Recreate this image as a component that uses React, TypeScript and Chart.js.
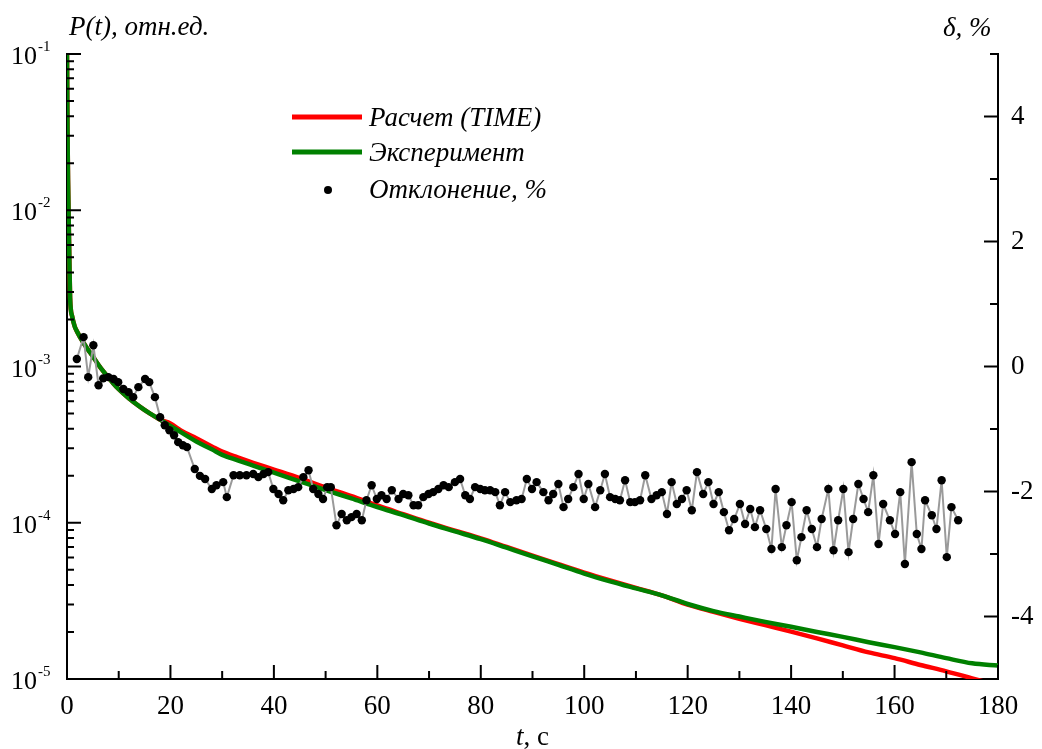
import React, { useEffect, useRef } from 'react';
import { Chart, registerables } from 'chart.js';

Chart.register(...registerables);

const FONT = "'Liberation Serif', 'Times New Roman', serif";

// Time grid (s) for the two P(t) curves
const curveTimes = [
  0, 0.1, 0.2, 0.3, 0.45, 0.6, 1, 1.5, 2, 3, 4, 5, 6, 7, 8, 9, 10,
  12, 14, 16, 18, 20, 22, 25, 28, 30, 33, 36, 40,
  45, 50, 55, 60, 65, 70, 75, 80, 85, 90, 95, 100, 105, 110, 115, 120,
  125, 130, 135, 140, 145, 150, 155, 160, 165, 170, 175, 180,
];

// Эксперимент, P(t), отн.ед.
const experimentValues = [
  1.0e-1, 3.16e-2, 1.58e-2, 1.0e-2, 5.0e-3, 2.75e-3, 2.09e-3, 1.8e-3, 1.66e-3, 1.45e-3, 1.29e-3, 1.16e-3, 1.035e-3, 9.33e-4, 8.51e-4, 7.76e-4, 7.16e-4,
  6.24e-4, 5.56e-4, 5.01e-4, 4.57e-4, 4.17e-4, 3.8e-4, 3.31e-4, 2.95e-4, 2.72e-4, 2.51e-4, 2.32e-4, 2.09e-4,
  1.84e-4, 1.62e-4, 1.43e-4, 1.26e-4, 1.12e-4, 9.89e-5, 8.81e-5, 7.85e-5, 6.92e-5, 6.1e-5, 5.37e-5, 4.73e-5, 4.22e-5, 3.8e-5, 3.43e-5, 3.02e-5,
  2.72e-5, 2.51e-5, 2.32e-5, 2.16e-5, 2.0e-5, 1.86e-5, 1.72e-5, 1.6e-5, 1.48e-5, 1.36e-5, 1.26e-5, 1.22e-5,
];

// Расчет (TIME), P(t), отн.ед.
const calculationValues = [
  1.0e-1, 3.16e-2, 1.58e-2, 1.0e-2, 5.0e-3, 2.75e-3, 2.09e-3, 1.8e-3, 1.66e-3, 1.45e-3, 1.29e-3, 1.16e-3, 1.035e-3, 9.33e-4, 8.51e-4, 7.76e-4, 7.16e-4,
  6.24e-4, 5.56e-4, 5.01e-4, 4.57e-4, 4.32e-4, 3.9e-4, 3.47e-4, 3.08e-4, 2.85e-4, 2.62e-4, 2.42e-4, 2.19e-4,
  1.93e-4, 1.68e-4, 1.48e-4, 1.29e-4, 1.135e-4, 1.0e-4, 8.91e-5, 7.94e-5, 7.0e-5, 6.17e-5, 5.43e-5, 4.79e-5, 4.27e-5, 3.83e-5, 3.43e-5, 2.99e-5,
  2.69e-5, 2.43e-5, 2.21e-5, 2.01e-5, 1.82e-5, 1.64e-5, 1.48e-5, 1.36e-5, 1.23e-5, 1.12e-5, 1.01e-5, 9.1e-6,
];

// Отклонение, %  (times, s)
const deviationTimes = [
  1.9, 3.2, 4.1, 5.1, 6.1, 7.0, 8.0, 9.0, 9.9, 10.9, 11.9, 12.8, 13.8, 15.1, 15.9, 17.0, 18.0, 18.9, 19.8, 20.7,
  21.5, 22.4, 23.2, 24.7, 25.7, 26.7, 28.0, 28.9, 30.2, 30.9, 32.2, 33.4, 34.7, 36.0, 37.0, 38.0, 38.9, 39.9, 40.9, 41.8,
  42.8, 43.8, 44.7, 45.7, 46.7, 47.6, 48.6, 49.5, 50.3, 51.0, 52.1, 53.1, 54.1, 55.0, 56.0, 57.0, 57.9, 58.9, 59.9, 60.8,
  61.8, 62.8, 64.1, 65.0, 66.0, 67.0, 67.9, 68.9, 69.9, 70.8, 71.8, 72.8, 73.8, 75.0, 76.0, 77.0, 77.9, 78.9, 79.9, 80.8,
  81.8, 82.8, 83.7, 84.7, 85.7, 86.9, 87.9, 88.9, 89.9, 90.8, 92.1, 93.1, 94.0, 95.0, 96.0, 96.9, 97.9, 98.9, 99.9, 100.8,
  102.1, 103.1, 104.0, 105.0, 106.0, 106.9, 107.9, 108.9, 109.8, 110.8, 111.8, 113.0, 114.0, 115.0, 116.0, 116.9, 117.9, 118.9, 119.8, 120.8,
  121.8, 123.0, 124.0, 125.0, 126.0, 127.0, 128.0, 129.0, 130.1, 131.1, 132.1, 133.0, 134.0, 135.2, 136.2, 137.0, 138.2, 139.1, 140.1, 141.1,
  142.0, 143.0, 144.0, 145.0, 145.9, 147.2, 148.2, 149.1, 150.1, 151.1, 152.0, 153.0, 154.0, 154.9, 155.9, 156.9, 157.8, 159.1, 160.1, 161.1,
  162.0, 163.3, 164.3, 165.2, 165.9, 167.2, 168.1, 169.1, 170.1, 171.0, 172.3,
];

const deviationValues = [
  0.12, 0.47, -0.17, 0.34, -0.3, -0.19, -0.17, -0.2, -0.25, -0.36, -0.41, -0.49, -0.33, -0.2, -0.25, -0.49, -0.81, -0.94, -1.02, -1.1,
  -1.21, -1.26, -1.29, -1.64, -1.75, -1.8, -1.96, -1.9, -1.85, -2.09, -1.74, -1.74, -1.74, -1.72, -1.77, -1.72, -1.69, -1.96, -2.04, -2.14,
  -1.98, -1.96, -1.93, -1.77, -1.66, -1.96, -2.04, -2.12, -1.93, -1.93, -2.54, -2.36, -2.46, -2.41, -2.36, -2.46, -2.14, -1.9, -2.12, -2.06,
  -2.12, -1.98, -2.12, -2.04, -2.06, -2.22, -2.22, -2.09, -2.04, -2.01, -1.96, -1.9, -1.93, -1.85, -1.8, -2.06, -2.12, -1.93, -1.96, -1.98,
  -1.98, -2.01, -2.22, -2.01, -2.17, -2.14, -2.12, -1.8, -1.96, -1.85, -2.01, -2.14, -2.04, -1.88, -2.25, -2.12, -1.93, -1.72, -2.12, -1.88,
  -2.25, -1.98, -1.72, -2.09, -2.12, -2.14, -1.82, -2.17, -2.17, -2.14, -1.74, -2.12, -2.06, -2.01, -2.36, -1.85, -2.2, -2.12, -1.98, -2.3,
  -1.69, -2.04, -1.85, -2.2, -2.01, -2.33, -2.62, -2.44, -2.2, -2.52, -2.28, -2.57, -2.3, -2.6, -2.92, -1.96, -2.89, -2.54, -2.17, -3.1,
  -2.73, -2.3, -2.6, -2.89, -2.44, -1.96, -2.94, -2.46, -1.96, -2.97, -2.44, -1.88, -2.12, -2.33, -1.74, -2.84, -2.2, -2.46, -2.68, -2.01,
  -3.16, -1.53, -2.68, -2.92, -2.14, -2.38, -2.6, -1.82, -3.05, -2.25, -2.46,
];

const xTickValues = [0, 20, 40, 60, 80, 100, 120, 140, 160, 180];
const rightTickValues = [-4, -2, 0, 2, 4];
const decadeExponents = [-1, -2, -3, -4, -5];
const legendLabels = ['Расчет (TIME)', 'Эксперимент', 'Отклонение, %'];
const leftTitle = 'P(t), отн.ед.';
const rightTitle = 'δ, %';
const bottomTitleItalic = 't';
const bottomTitleRest = ', c';

const RED = '#ff0000';
const GREEN = '#008000';

const decorPlugin = {
  id: 'decor',
  afterDraw(chart: any) {
    const { ctx, chartArea: a, scales } = chart;
    const xs = scales.x;
    const ys = scales.y;
    const y2 = scales.y2;
    ctx.save();
    ctx.strokeStyle = '#000';
    ctx.lineWidth = 2;
    ctx.beginPath();
    // x ticks (inward)
    for (let v = 0; v <= 180; v += 10) {
      const px = xs.getPixelForValue(v);
      const len = v % 20 === 0 ? 14 : 8;
      ctx.moveTo(px, a.bottom);
      ctx.lineTo(px, a.bottom - len);
    }
    // left log ticks
    for (const e of decadeExponents) {
      const base = Math.pow(10, e);
      const py = ys.getPixelForValue(base);
      ctx.moveTo(a.left, py);
      ctx.lineTo(a.left + 14, py);
      if (e < -1) {
        for (let m = 2; m <= 9; m++) {
          const pm = ys.getPixelForValue(m * base);
          ctx.moveTo(a.left, pm);
          ctx.lineTo(a.left + 7, pm);
        }
      }
    }
    // right ticks
    for (let v = -5; v <= 5; v++) {
      const py = y2.getPixelForValue(v);
      const len = v % 2 === 0 ? 14 : 8;
      ctx.moveTo(a.right, py);
      ctx.lineTo(a.right - len, py);
    }
    ctx.stroke();

    // left labels 10^n
    ctx.fillStyle = '#000';
    for (const e of decadeExponents) {
      const py = ys.getPixelForValue(Math.pow(10, e));
      ctx.font = `26px ${FONT}`;
      ctx.textAlign = 'right';
      ctx.textBaseline = 'alphabetic';
      ctx.fillText('10', 37, py + 10);
      ctx.font = `15px ${FONT}`;
      ctx.textAlign = 'left';
      ctx.fillText(String(e), 38, py - 3);
    }

    // axis titles
    ctx.textBaseline = 'alphabetic';
    ctx.textAlign = 'left';
    ctx.font = `italic 27px ${FONT}`;
    ctx.fillText(leftTitle, 69, 35);
    ctx.fillText(rightTitle, 943, 36);
    const wItal = ctx.measureText(bottomTitleItalic).width;
    ctx.font = `27px ${FONT}`;
    const wRest = ctx.measureText(bottomTitleRest).width;
    const cx = (a.left + a.right) / 2;
    const startX = cx - (wItal + wRest) / 2;
    ctx.font = `italic 27px ${FONT}`;
    ctx.fillText(bottomTitleItalic, startX, 745);
    ctx.font = `27px ${FONT}`;
    ctx.fillText(bottomTitleRest, startX + wItal, 745);

    // legend
    ctx.lineCap = 'butt';
    ctx.lineWidth = 5;
    ctx.strokeStyle = RED;
    ctx.beginPath();
    ctx.moveTo(292, 117);
    ctx.lineTo(362, 117);
    ctx.stroke();
    ctx.strokeStyle = GREEN;
    ctx.beginPath();
    ctx.moveTo(292, 152);
    ctx.lineTo(362, 152);
    ctx.stroke();
    ctx.fillStyle = '#000';
    ctx.beginPath();
    ctx.arc(328, 190, 4, 0, Math.PI * 2);
    ctx.fill();
    ctx.font = `italic 27px ${FONT}`;
    ctx.fillText(legendLabels[0], 369, 126);
    ctx.fillText(legendLabels[1], 369, 161);
    ctx.fillText(legendLabels[2], 369, 198);
    ctx.restore();
  },
};

export default function App() {
  const canvasRef = useRef<HTMLCanvasElement | null>(null);

  useEffect(() => {
    if (!canvasRef.current) return;
    const border = { display: true, color: '#000', width: 2 };
    const chart = new Chart(canvasRef.current, {
      type: 'line',
      data: {
        datasets: [
          {
            label: legendLabels[2],
            data: deviationTimes.map((t, i) => ({ x: t, y: deviationValues[i] })),
            yAxisID: 'y2',
            borderColor: '#9a9a9a',
            borderWidth: 2,
            pointRadius: 4.2,
            pointBackgroundColor: '#000',
            pointBorderWidth: 0,
            order: 0,
          },
          {
            label: legendLabels[1],
            data: curveTimes.map((t, i) => ({ x: t, y: experimentValues[i] })),
            yAxisID: 'y',
            borderColor: GREEN,
            borderWidth: 4.5,
            pointRadius: 0,
            cubicInterpolationMode: 'monotone',
            order: 1,
          },
          {
            label: legendLabels[0],
            data: curveTimes.map((t, i) => ({ x: t, y: calculationValues[i] })),
            yAxisID: 'y',
            borderColor: RED,
            borderWidth: 4.5,
            pointRadius: 0,
            cubicInterpolationMode: 'monotone',
            clip: 0,
            order: 2,
          },
        ],
      },
      options: {
        animation: false,
        responsive: false,
        layout: { padding: { top: 54, left: 0, right: 0, bottom: 0 } },
        plugins: { legend: { display: false }, tooltip: { enabled: false } },
        scales: {
          x: {
            type: 'linear',
            min: 0,
            max: 180,
            afterBuildTicks: (s: any) => {
              s.ticks = xTickValues.map((v) => ({ value: v }));
            },
            afterFit: (s: any) => {
              s.height = 70;
            },
            ticks: {
              font: { family: FONT, size: 27 },
              color: '#000',
              padding: 12,
              maxRotation: 0,
              autoSkip: false,
            },
            grid: { display: false, drawTicks: false },
            border,
          },
          y: {
            type: 'logarithmic',
            position: 'left',
            min: 1e-5,
            max: 1e-1,
            afterFit: (s: any) => {
              s.width = 67;
            },
            ticks: { display: false },
            grid: { display: false, drawTicks: false },
            border,
          },
          y2: {
            type: 'linear',
            position: 'right',
            min: -5,
            max: 5,
            afterBuildTicks: (s: any) => {
              s.ticks = rightTickValues.map((v) => ({ value: v }));
            },
            afterFit: (s: any) => {
              s.width = 44;
            },
            ticks: {
              font: { family: FONT, size: 27 },
              color: '#000',
              padding: 13,
            },
            grid: { display: false, drawTicks: false },
            border,
          },
        },
      } as any,
      plugins: [decorPlugin],
    });
    return () => chart.destroy();
  }, []);

  return (
    <div style={{ position: 'absolute', left: 0, top: 0, width: 1042, height: 749, background: '#fff' }}>
      <canvas ref={canvasRef} width={1042} height={749} style={{ display: 'block' }} />
    </div>
  );
}
